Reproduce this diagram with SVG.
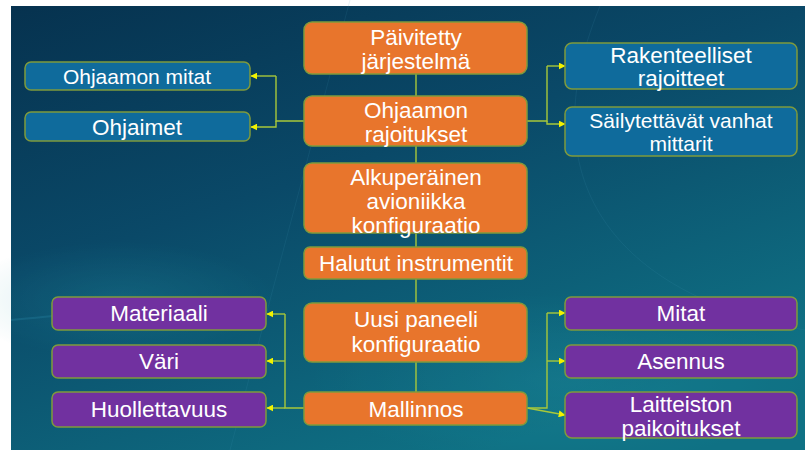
<svg xmlns="http://www.w3.org/2000/svg" width="805" height="450" viewBox="0 0 805 450">
<defs>
<linearGradient id="bg" x1="0" y1="0" x2="0.6" y2="1">
<stop offset="0" stop-color="#06324f"/>
<stop offset="0.45" stop-color="#0a4968"/>
<stop offset="1" stop-color="#0f7184"/>
</linearGradient>
<radialGradient id="glow" cx="0.5" cy="0.5" r="0.5">
<stop offset="0" stop-color="#2aa0b0" stop-opacity="0.35"/>
<stop offset="1" stop-color="#2aa0b0" stop-opacity="0"/>
</radialGradient>
<marker id="ah" viewBox="0 0 10 10" refX="9" refY="5" markerWidth="7" markerHeight="7" markerUnits="userSpaceOnUse" orient="auto">
<path d="M0,0 L10,5 L0,10 z" fill="#f2f200"/>
</marker>
<style>
.o{fill:#e8752c;stroke:#7f9a3c;stroke-width:1.5}
.b{fill:#0f6b9c;stroke:#7f9a3c;stroke-width:1.5}
.p{fill:#7131a0;stroke:#7f9a3c;stroke-width:1.5}
.t{font-family:"Liberation Sans","DejaVu Sans",sans-serif;fill:#ffffff;text-anchor:middle;font-size:22.5px}
.s{font-size:21px}
.c{fill:none;stroke:#a8c83a;stroke-width:1.4}
.a{marker-end:url(#ah)}
</style>
</defs>
<rect x="0" y="0" width="805" height="450" fill="#ffffff"/>
<rect x="11" y="6" width="794" height="444" fill="url(#bg)"/>
<g opacity="0.6">
<ellipse cx="560" cy="380" rx="260" ry="90" fill="url(#glow)"/>
<ellipse cx="120" cy="300" rx="160" ry="60" fill="url(#glow)"/>
<path d="M11,320 C120,310 200,300 260,300" stroke="#3fb0d0" stroke-width="2" stroke-opacity="0.3" fill="none"/>
<path d="M350,0 L230,450" stroke="#4aa0c0" stroke-width="1" stroke-opacity="0.2" fill="none"/>
<path d="M600,6 C520,200 640,300 805,330" stroke="#4aa0c0" stroke-width="1" stroke-opacity="0.2" fill="none"/>
</g>
<g id="connectors">
<path class="c" d="M416,74 V392"/>
<path class="c" d="M304,121 H276 V76"/>
<path class="c a" d="M276,76 H251"/>
<path class="c a" d="M276,121 V127 H251"/>
<path class="c" d="M527,121 H547 V66"/>
<path class="c a" d="M547,66 H565"/>
<path class="c a" d="M547,121 V124 H565"/>
<path class="c" d="M304,408 H285 V314"/>
<path class="c a" d="M285,314 H267"/>
<path class="c a" d="M285,361 H267"/>
<path class="c a" d="M285,408 H267"/>
<path class="c" d="M527,408 H547 V313"/>
<path class="c a" d="M547,313 H565"/>
<path class="c a" d="M547,361 H565"/>
<path class="c a" d="M527,408 L565,415"/>
</g>
<g id="n1"><rect class="o" x="304" y="22" width="223" height="52" rx="8"/><text class="t" x="416" y="45">Päivitetty</text><text class="t" x="416" y="69">järjestelmä</text></g>
<g id="n2"><rect class="o" x="304" y="96" width="223" height="50" rx="8"/><text class="t" x="416" y="118">Ohjaamon</text><text class="t" x="416" y="142">rajoitukset</text></g>
<g id="n3"><rect class="o" x="304" y="163" width="223" height="70" rx="8"/><text class="t" x="416" y="185">Alkuperäinen</text><text class="t" x="416" y="209">avioniikka</text><text class="t" x="416" y="233">konfiguraatio</text></g>
<g id="n4"><rect class="o" x="304" y="247" width="223" height="32" rx="6"/><text class="t" x="416" y="271">Halutut instrumentit</text></g>
<g id="n5"><rect class="o" x="304" y="303" width="223" height="59" rx="8"/><text class="t" x="416" y="327">Uusi paneeli</text><text class="t" x="416" y="352">konfiguraatio</text></g>
<g id="n6"><rect class="o" x="304" y="392" width="223" height="33" rx="6"/><text class="t" x="416" y="417">Mallinnos</text></g>
<g id="b1"><rect class="b" x="25" y="62" width="225" height="28" rx="6"/><text class="t s" x="137" y="84">Ohjaamon mitat</text></g>
<g id="b2"><rect class="b" x="25" y="112" width="225" height="29" rx="6"/><text class="t" x="137" y="135">Ohjaimet</text></g>
<g id="b3"><rect class="b" x="565" y="43" width="232" height="46" rx="7"/><text class="t" x="681" y="63">Rakenteelliset</text><text class="t" x="681" y="86">rajoitteet</text></g>
<g id="b4"><rect class="b" x="565" y="107" width="232" height="49" rx="7"/><text class="t s" x="681" y="128">Säilytettävät vanhat</text><text class="t s" x="681" y="151">mittarit</text></g>
<g id="p1"><rect class="p" x="52" y="297" width="214" height="33" rx="6"/><text class="t" x="159" y="321">Materiaali</text></g>
<g id="p2"><rect class="p" x="52" y="345" width="214" height="33" rx="6"/><text class="t" x="159" y="369">Väri</text></g>
<g id="p3"><rect class="p" x="52" y="392" width="214" height="35" rx="6"/><text class="t" x="159" y="417">Huollettavuus</text></g>
<g id="p4"><rect class="p" x="565" y="297" width="232" height="33" rx="6"/><text class="t" x="681" y="321">Mitat</text></g>
<g id="p5"><rect class="p" x="565" y="345" width="232" height="33" rx="6"/><text class="t" x="681" y="369">Asennus</text></g>
<g id="p6"><rect class="p" x="565" y="392" width="232" height="46" rx="7"/><text class="t" x="681" y="412">Laitteiston</text><text class="t" x="681" y="436">paikoitukset</text></g>
</svg>
